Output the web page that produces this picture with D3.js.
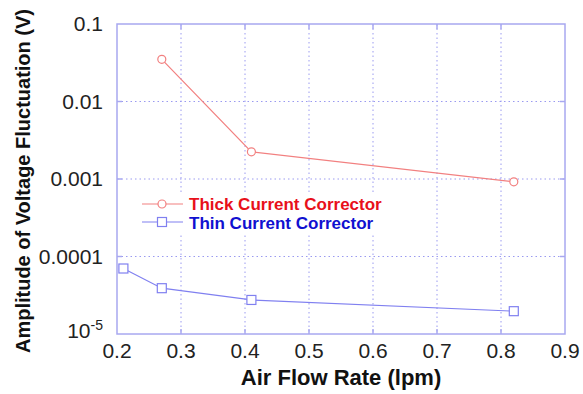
<!DOCTYPE html>
<html>
<head>
<meta charset="utf-8">
<script src="https://d3js.org/d3.v7.min.js"></script>
<style>
  body { margin: 0; background: #fff; }
  text { font-family: "Liberation Sans", Arial, sans-serif; }
</style>
</head>
<body>
<div id="chart"></div>
<script>
// data
const thickX = [0.27, 0.41, 0.82];
const thickY = [0.035, 0.00224, 0.00092];
const thinX = [0.21, 0.27, 0.41, 0.82];
const thinY = [7.0e-5, 3.9e-5, 2.75e-5, 1.97e-5];
const xTicks = [0.2, 0.3, 0.4, 0.5, 0.6, 0.7, 0.8, 0.9];
const yTicks = [1e-5, 1e-4, 1e-3, 1e-2, 1e-1];
const yTickLabels = ["", "0.0001", "0.001", "0.01", "0.1"];

const W = 583, H = 394;
const m = { left: 117, right: 18, top: 24, bottom: 60 };

const svg = d3.select("#chart").append("svg")
  .attr("width", W).attr("height", H);

const x = d3.scaleLinear().domain([0.2, 0.9]).range([m.left, W - m.right]);
const y = d3.scaleLog().domain([1e-5, 0.1]).range([H - m.bottom, m.top]);

const frameColor = "#a8a8f0";
const gridColor = "#9a9af0";

// grid (dotted)
svg.append("g").selectAll("line")
  .data(xTicks.slice(1, -1)).join("line")
  .attr("x1", d => x(d)).attr("x2", d => x(d))
  .attr("y1", y(0.1)).attr("y2", y(1e-5))
  .attr("stroke", gridColor).attr("stroke-width", 1)
  .attr("stroke-dasharray", "1.5,3");
svg.append("g").selectAll("line")
  .data(yTicks.slice(1, -1)).join("line")
  .attr("x1", x(0.2)).attr("x2", x(0.9))
  .attr("y1", d => y(d)).attr("y2", d => y(d))
  .attr("stroke", gridColor).attr("stroke-width", 1)
  .attr("stroke-dasharray", "1.5,3");

// frame
svg.append("rect")
  .attr("x", x(0.2)).attr("y", y(0.1))
  .attr("width", x(0.9) - x(0.2)).attr("height", y(1e-5) - y(0.1))
  .attr("fill", "none").attr("stroke", frameColor).attr("stroke-width", 1.5);

// inward ticks
const tk = 5;
xTicks.slice(1, -1).forEach(d => {
  svg.append("line").attr("x1", x(d)).attr("x2", x(d))
    .attr("y1", y(1e-5)).attr("y2", y(1e-5) - tk)
    .attr("stroke", frameColor).attr("stroke-width", 1.5);
  svg.append("line").attr("x1", x(d)).attr("x2", x(d))
    .attr("y1", y(0.1)).attr("y2", y(0.1) + tk)
    .attr("stroke", frameColor).attr("stroke-width", 1.5);
});
yTicks.slice(1, -1).forEach(d => {
  svg.append("line").attr("x1", x(0.2)).attr("x2", x(0.2) + tk)
    .attr("y1", y(d)).attr("y2", y(d))
    .attr("stroke", frameColor).attr("stroke-width", 1.5);
  svg.append("line").attr("x1", x(0.9)).attr("x2", x(0.9) - tk)
    .attr("y1", y(d)).attr("y2", y(d))
    .attr("stroke", frameColor).attr("stroke-width", 1.5);
});

// tick labels
svg.append("g").selectAll("text")
  .data(xTicks).join("text")
  .attr("x", d => x(d)).attr("y", y(1e-5) + 24)
  .attr("text-anchor", "middle").attr("font-size", 21).attr("fill", "#222")
  .text(d => d.toFixed(1));
svg.append("g").selectAll("text")
  .data(yTicks).join("text")
  .attr("x", x(0.2) - 14).attr("y", d => y(d) + 7)
  .attr("text-anchor", "end").attr("font-size", 21).attr("fill", "#222")
  .text((d, i) => yTickLabels[i]);
const e5 = svg.append("text")
  .attr("x", x(0.2) - 14).attr("y", y(1e-5) + 4)
  .attr("text-anchor", "end").attr("font-size", 21).attr("fill", "#222");
e5.append("tspan").text("10");
e5.append("tspan").attr("dy", -8).attr("font-size", 14).text("-5");

// axis titles
svg.append("text")
  .attr("x", (x(0.2) + x(0.9)) / 2).attr("y", 385)
  .attr("text-anchor", "middle").attr("font-size", 22).attr("font-weight", "bold")
  .attr("fill", "#111").text("Air Flow Rate (lpm)");
svg.append("text")
  .attr("transform", `translate(30,181) rotate(-90)`)
  .attr("text-anchor", "middle").attr("font-size", 20).attr("font-weight", "bold")
  .attr("fill", "#111").text("Amplitude of Voltage Fluctuation (V)");

// series
const red = "#f28080", blue = "#8080f0";
const line = d3.line().x(d => x(d[0])).y(d => y(d[1]));
const thick = thickX.map((v, i) => [v, thickY[i]]);
const thin = thinX.map((v, i) => [v, thinY[i]]);

svg.append("path").datum(thick).attr("d", line)
  .attr("fill", "none").attr("stroke", red).attr("stroke-width", 1.2);
svg.append("g").selectAll("circle").data(thick).join("circle")
  .attr("cx", d => x(d[0])).attr("cy", d => y(d[1])).attr("r", 4)
  .attr("fill", "#fff").attr("stroke", red).attr("stroke-width", 1.2);

svg.append("path").datum(thin).attr("d", line)
  .attr("fill", "none").attr("stroke", blue).attr("stroke-width", 1.2);
svg.append("g").selectAll("rect").data(thin).join("rect")
  .attr("x", d => x(d[0]) - 4.5).attr("y", d => y(d[1]) - 4.5)
  .attr("width", 9).attr("height", 9)
  .attr("fill", "#fff").attr("stroke", blue).attr("stroke-width", 1.2);

// legend
const lg = svg.append("g");
lg.append("rect").attr("x", 137).attr("y", 193).attr("width", 255).attr("height", 40)
  .attr("fill", "#fff");
lg.append("line").attr("x1", 142).attr("x2", 183).attr("y1", 204).attr("y2", 204)
  .attr("stroke", red).attr("stroke-width", 1.2);
lg.append("circle").attr("cx", 162).attr("cy", 204).attr("r", 4)
  .attr("fill", "#fff").attr("stroke", red).attr("stroke-width", 1.2);
lg.append("line").attr("x1", 142).attr("x2", 183).attr("y1", 222).attr("y2", 222)
  .attr("stroke", blue).attr("stroke-width", 1.2);
lg.append("rect").attr("x", 157.5).attr("y", 217.5).attr("width", 9).attr("height", 9)
  .attr("fill", "#fff").attr("stroke", blue).attr("stroke-width", 1.2);
lg.append("text").attr("x", 189).attr("y", 210)
  .attr("font-size", 17).attr("font-weight", "bold").attr("fill", "#e8101a")
  .text("Thick Current Corrector");
lg.append("text").attr("x", 189).attr("y", 229)
  .attr("font-size", 17).attr("font-weight", "bold").attr("fill", "#1010d0")
  .text("Thin Current Corrector");
</script>
</body>
</html>
